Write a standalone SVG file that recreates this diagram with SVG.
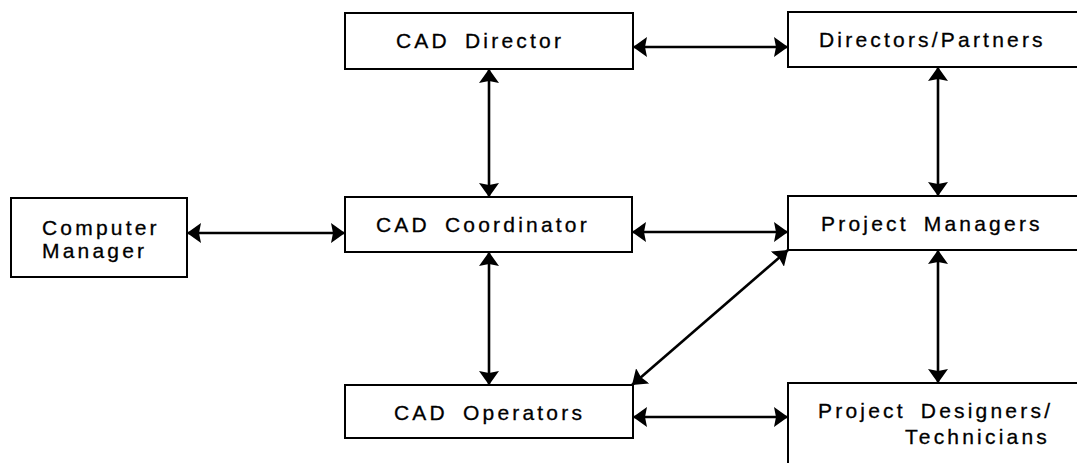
<svg xmlns="http://www.w3.org/2000/svg" width="1077" height="463" viewBox="0 0 1077 463">
<style>
.box{fill:#fff;stroke:#000;stroke-width:2}
.lbl{font-family:"Liberation Sans",Arial,sans-serif;font-size:21px;letter-spacing:3.2px;word-spacing:6px;fill:#000;stroke:#000;stroke-width:0.3}
.con{stroke:#000;stroke-width:2.6;fill:none;marker-start:url(#ah);marker-end:url(#ah)}
</style>
<defs>
<marker id="ah" viewBox="0 0 14 20" markerWidth="14" markerHeight="20" refX="14" refY="10" orient="auto-start-reverse" markerUnits="userSpaceOnUse">
<path d="M0,0 L14,10 L0,20 L2,10 Z" fill="#000"/>
</marker>
</defs>
<rect width="1077" height="463" fill="#fff"/>
<g id="cad-director"><rect class="box" x="345" y="13" width="288" height="56"/><text class="lbl" x="396" y="48">CAD Director</text></g>
<g id="directors-partners"><rect class="box" x="788" y="12" width="300" height="55"/><text class="lbl" x="819" y="47">Directors/Partners</text></g>
<g id="computer-manager"><rect class="box" x="11" y="198" width="176" height="79"/><text class="lbl" x="42" y="235">Computer</text><text class="lbl" x="42" y="258">Manager</text></g>
<g id="cad-coordinator"><rect class="box" x="345" y="197" width="287" height="55"/><text class="lbl" x="376" y="232">CAD Coordinator</text></g>
<g id="project-managers"><rect class="box" x="788" y="196" width="300" height="54"/><text class="lbl" x="821" y="231">Project Managers</text></g>
<g id="cad-operators"><rect class="box" x="345" y="385" width="288" height="53"/><text class="lbl" x="394" y="420">CAD Operators</text></g>
<g id="project-designers"><rect class="box" x="788" y="383" width="300" height="90"/><text class="lbl" x="818" y="418">Project Designers/</text><text class="lbl" x="1050" y="444" text-anchor="end">Technicians</text></g>
<g id="connectors">
<line class="con" x1="633" y1="47" x2="788" y2="47"/>
<line class="con" x1="489" y1="69" x2="489" y2="197"/>
<line class="con" x1="489" y1="252" x2="489" y2="385"/>
<line class="con" x1="938" y1="67" x2="938" y2="196"/>
<line class="con" x1="938" y1="250" x2="938" y2="383"/>
<line class="con" x1="187" y1="233" x2="345" y2="233"/>
<line class="con" x1="632" y1="232" x2="788" y2="232"/>
<line class="con" x1="788" y1="250" x2="632" y2="385"/>
<line class="con" x1="633" y1="417" x2="788" y2="417"/>
</g>
</svg>
